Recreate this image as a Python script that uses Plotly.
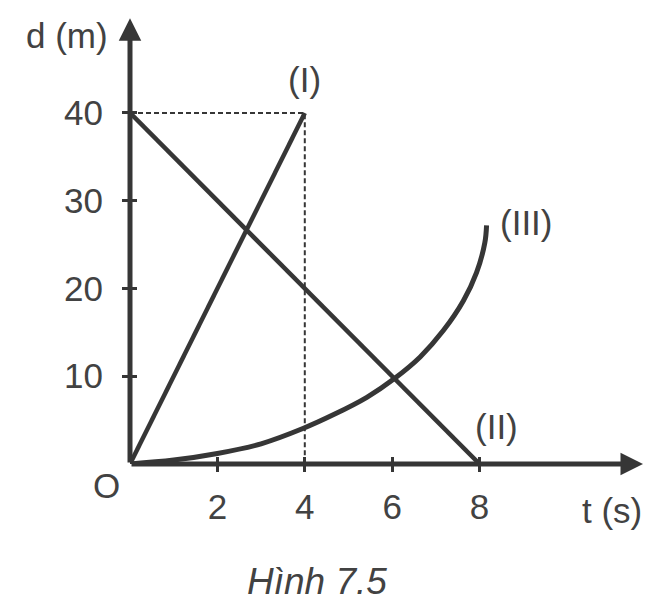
import plotly.graph_objects as go

# values
t_line1 = [0, 4]
d_line1 = [0, 40]

t_line2 = [0, 8]
d_line2 = [40, 0]

t_curve3 = [0, 1, 2, 3, 3.97, 4.65, 5.42, 6.06, 6.64, 7.17, 7.63, 7.93, 8.12, 8.16]
d_curve3 = [0, 0.45, 1.2, 2.3, 4.07, 5.6, 7.6, 9.77, 12.2, 15.2, 18.6, 21.8, 25.2, 27.2]

t_guide = [0, 4, 4]
d_guide = [40, 40, 0]

x_ticks = [2, 4, 6, 8]
y_ticks = [10, 20, 30, 40]

ink = '#363636'
text_col = '#424242'
font_name = 'Liberation Sans'

x_max = 11.9
y_max = 51.5


def create_figure():
    fig = go.Figure()

    fig.add_trace(go.Scatter(x=t_guide, y=d_guide, mode='lines',
                             line=dict(color=ink, width=2, dash='5px,3px'),
                             cliponaxis=False))

    fig.add_trace(go.Scatter(x=t_line1, y=d_line1, mode='lines',
                             line=dict(color=ink, width=4.5),
                             cliponaxis=False))

    fig.add_trace(go.Scatter(x=t_line2, y=d_line2, mode='lines',
                             line=dict(color=ink, width=4.5),
                             cliponaxis=False))

    fig.add_trace(go.Scatter(x=t_curve3, y=d_curve3, mode='lines',
                             line=dict(color=ink, width=5, shape='spline',
                                       smoothing=1.0),
                             cliponaxis=False))

    # axes drawn as arrows
    arrows = [dict(x=11.74, y=0, ax=0, ay=0),
              dict(x=0, y=50.8, ax=0, ay=0)]
    for a in arrows:
        fig.add_annotation(x=a['x'], y=a['y'], ax=a['ax'], ay=a['ay'],
                           xref='x', yref='y', axref='x', ayref='y',
                           text='', showarrow=True, arrowhead=2,
                           arrowsize=0.9, arrowwidth=5, arrowcolor=ink)

    labels = [("(I)", 4.0, 43.8, 'x', 'y'),
              ("(II)", 8.38, 4.27, 'x', 'y'),
              ("(III)", 9.06, 27.5, 'x', 'y'),
              ("d (m)", -0.1212, 0.949, 'paper', 'paper'),
              ("O", -0.046, -0.0465, 'paper', 'paper'),
              ("t (s)", 0.927, -0.1018, 'paper', 'paper')]
    for txt, xv, yv, xr, yr in labels:
        fig.add_annotation(x=xv, y=yv, xref=xr, yref=yr, text=txt,
                           showarrow=False, xanchor='center',
                           yanchor='middle',
                           font=dict(size=35, color=text_col))

    fig.add_annotation(x=0.3596, y=-0.261, xref='paper', yref='paper',
                       text='<i>Hình 7.5</i>', showarrow=False,
                       xanchor='center', yanchor='middle',
                       font=dict(size=37, color=text_col))

    axis_common = dict(showgrid=False, zeroline=False, showline=False,
                       tickcolor=ink, tickwidth=3, ticklen=7)

    fig.update_layout(
        xaxis=dict(range=[0, x_max], tickvals=x_ticks, ticks='outside',
                   ticklabelstandoff=5, **axis_common),
        xaxis2=dict(range=[0, x_max], tickvals=x_ticks, ticks='inside',
                    overlaying='x', side='bottom', anchor='y',
                    showticklabels=False, **axis_common),
        yaxis=dict(range=[0, y_max], tickvals=y_ticks, ticks='outside',
                   ticklabelstandoff=12, **axis_common),
        yaxis2=dict(range=[0, y_max], tickvals=y_ticks, ticks='inside',
                    overlaying='y', side='left', anchor='x',
                    showticklabels=False, **axis_common),
        font=dict(family=font_name, size=35, color=text_col),
        showlegend=False,
        # the page body adds 8px around the figure
        width=656, height=603, autosize=False,
        margin=dict(l=122, r=14, t=4, b=147),
        paper_bgcolor='white', plot_bgcolor='rgba(0,0,0,0)',
    )
    # dummy trace so the second axes get drawn
    fig.add_trace(go.Scatter(x=[None], y=[None], xaxis='x2', yaxis='y2',
                             hoverinfo='skip'))
    return fig


if __name__ == '__main__':
    fig = create_figure()
    fig.write_html("out.html")
